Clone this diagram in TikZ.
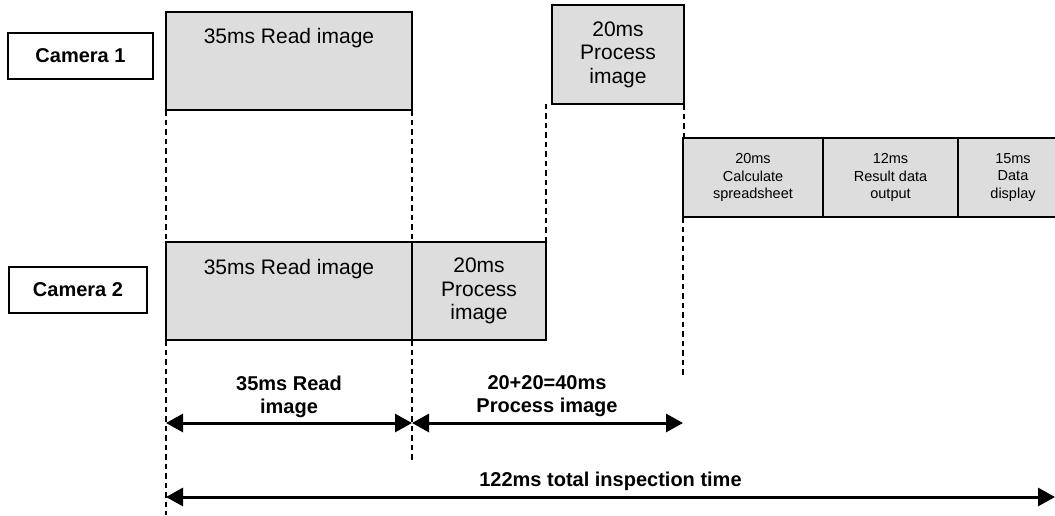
\documentclass[tikz,border=0pt]{standalone}
\usepackage{fontspec}
\setmainfont{Liberation Sans}
\usetikzlibrary{arrows.meta}
\definecolor{taskgray}{HTML}{DDDDDD}
\begin{document}
\begin{tikzpicture}[x=1pt,y=-1pt,
  every node/.style={inner sep=0pt, outer sep=0pt},
  cam/.style={draw, line width=1.8pt, fill=white, font=\fontsize{20}{23}\selectfont\bfseries},
  task/.style={draw, line width=1.8pt, fill=taskgray, align=center, font=\fontsize{21}{23.5}\selectfont},
  small/.style={draw, line width=1.8pt, fill=taskgray, align=center, font=\fontsize{14.5}{17.5}\selectfont},
  tasklbl/.style={font=\fontsize{21}{23.5}\selectfont, anchor=base},
  guide/.style={line width=2.3pt, dash pattern=on 5.5pt off 4pt},
  span/.style={line width=3pt, {Triangle[length=17pt,width=18pt]}-{Triangle[length=17pt,width=18pt]}},
  spanlbl/.style={font=\fontsize{20}{23}\selectfont\bfseries, align=center},
]
\useasboundingbox (0,0) rectangle (1055,515);
\clip (0,0) rectangle (1055,515);

% camera labels
\node[cam, minimum width=145pt, minimum height=46pt] (cam1) at (80.5,56) {Camera 1};
\node[cam, minimum width=138pt, minimum height=46pt] (cam2) at (78,290) {Camera 2};

% camera 1 tasks
\node[task, minimum width=246pt, minimum height=98pt] (r1) at (289,61) {};
\node[tasklbl] (r1t) at (289,43) {35ms Read image};
\node[task, minimum width=132pt, minimum height=99pt] (p1) at (618,54.5) {20ms\\Process\\image};

% camera 2 tasks
\node[task, minimum width=246pt, minimum height=98pt] (r2) at (289,291) {};
\node[tasklbl] (r2t) at (289,274) {35ms Read image};
\node[task, minimum width=134pt, minimum height=98pt] (p2) at (479,291) {20ms\\Process\\image};

% post-processing tasks
\node[small, minimum width=140pt, minimum height=79pt] (c1) at (753,177.5) {20ms\\Calculate\\spreadsheet};
\node[small, minimum width=135pt, minimum height=79pt] (c2) at (890.5,177.5) {12ms\\Result data\\output};
\node[small, minimum width=110pt, minimum height=79pt] (c3) at (1013,177.5) {15ms\\Data\\display};

% free ends
\coordinate (bl) at (166,515);
\coordinate (ml) at (412,460);
\coordinate (rl) at (683,375);
\coordinate (a0) at (166,423);
\coordinate (a1) at (412,423);
\coordinate (a2) at (683,423);
\coordinate (t0) at (166,497);
\coordinate (t1) at (1055,497);

% dashed guides
\draw[guide] (r1.south west) -- (r2.north west);
\draw[guide] (r2.south west) -- (bl);
\draw[guide] (r1.south east) -- (r2.north east);
\draw[guide] (r2.south east) -- (ml);
\draw[guide] (p2.north east) -- (p2.north east |- p1.south);
\draw[guide] (p1.south east) -- (p1.south east |- c1.north);
\draw[guide] (c1.south west) -- (rl);

% spans
\draw[span] (a0) -- (a1);
\draw[span] (a1) -- (a2);
\draw[span] (t0) -- (t1);

\node[spanlbl] (l1) at (289,396.5) {35ms Read\\image};
\node[spanlbl] (l2) at (547,396.5) {20+20=40ms\\Process image};
\node[spanlbl, anchor=base] (l3) at (610.5,486) {122ms total inspection time};
\end{tikzpicture}
\end{document}
